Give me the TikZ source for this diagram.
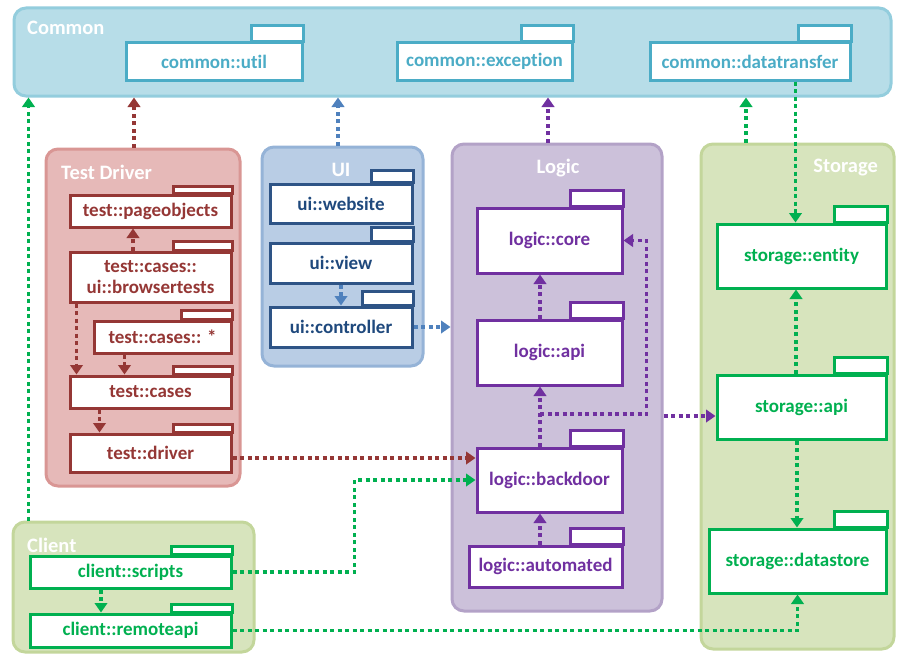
\documentclass[tikz,border=0pt]{standalone}
\usepackage{fontspec}
\setmainfont{Carlito}[Ligatures=CommonOff]
\usetikzlibrary{arrows.meta}

\definecolor{cmnFill}{HTML}{B7DDE8}
\definecolor{cmnLine}{HTML}{93CDDD}
\definecolor{cmnPkg}{HTML}{4BACC6}
\definecolor{tstFill}{HTML}{E6B9B8}
\definecolor{tstLine}{HTML}{D99694}
\definecolor{tstPkg}{HTML}{953735}
\definecolor{uiFill}{HTML}{B9CDE5}
\definecolor{uiLine}{HTML}{95B3D7}
\definecolor{uiPkg}{HTML}{2E5486}
\definecolor{uiText}{HTML}{1F497D}
\definecolor{uiArr}{HTML}{4F81BD}
\definecolor{lgcFill}{HTML}{CCC1DA}
\definecolor{lgcLine}{HTML}{B3A2C7}
\definecolor{lgcPkg}{HTML}{7030A0}
\definecolor{strFill}{HTML}{D7E4BD}
\definecolor{strLine}{HTML}{C3D69B}
\definecolor{strPkg}{HTML}{00B050}

\tikzset{
  grp/.style 2 args={draw=#2, fill=#1, line width=3pt, rounded corners=12pt, inner sep=0pt},
  grptitle/.style={text=white, font=\bfseries\fontsize{20.5}{22}\selectfont, inner sep=0pt},
  pkg/.style={draw=#1, text=#1, fill=white, line width=3pt, inner sep=0pt, align=center,
    font=\bfseries\fontsize{19}{21}\selectfont},
  conn/.style={draw=#1, line width=3.5pt, dash pattern=on 4pt off 3.5pt,
    -{Triangle[width=12.5pt,length=9.5pt]}},
}

\begin{document}
\begin{tikzpicture}[x=1pt, y=-1pt]
  \useasboundingbox (0,0) rectangle (907,661);

  % groups
  \node[grp={cmnFill}{cmnLine}, minimum width=877pt, minimum height=88pt] (common) at (452.5,52) {};
  \node[grp={tstFill}{tstLine}, minimum width=194pt, minimum height=337pt] (testdrv) at (143,317.5) {};
  \node[grp={uiFill}{uiLine}, minimum width=161pt, minimum height=219pt] (uigrp) at (342.5,256.5) {};
  \node[grp={lgcFill}{lgcLine}, minimum width=210pt, minimum height=467pt] (logicgrp) at (557,377.5) {};
  \node[grp={strFill}{strLine}, minimum width=193pt, minimum height=505pt] (storgrp) at (797.5,396.5) {};
  \node[grp={strFill}{strLine}, minimum width=241pt, minimum height=130pt] (client) at (133.5,587) {};

  \node[grptitle, anchor=west] (commontitle) at (27,28) {Common};
  \node[grptitle, anchor=west] (testtitle) at (61,172) {Test Driver};
  \node[grptitle] (uititle) at (341,170) {UI};
  \node[grptitle] (logictitle) at (558,168) {Logic};
  \node[grptitle, anchor=east] (stortitle) at (878,168) {Storage};
  \node[grptitle, anchor=west] (clienttitle) at (27,545) {Client};

  % packages
  \node[pkg=cmnPkg, minimum width=176pt, minimum height=37pt] (util) at (214,61.5) {common::util};
  \node[pkg=cmnPkg, minimum width=175pt, minimum height=37pt] (exception) at (484.5,61.5) {common::exception};
  \node[pkg=cmnPkg, minimum width=200pt, minimum height=37pt] (datatransfer) at (750,61.5) {common::datatransfer};

  \node[pkg=tstPkg, minimum width=161pt, minimum height=32pt] (pageobjects) at (150.5,211) {test::pageobjects};
  \node[pkg=tstPkg, minimum width=161pt, minimum height=50pt] (browsertests) at (150.5,277) {test::cases::\\ui::browsertests};
  \node[pkg=tstPkg, minimum width=137pt, minimum height=32pt] (casesstar) at (162.5,337) {test::cases:: *};
  \node[pkg=tstPkg, minimum width=161pt, minimum height=32pt] (cases) at (150.5,392) {test::cases};
  \node[pkg=tstPkg, minimum width=161pt, minimum height=38pt] (driver) at (150.5,453) {test::driver};

  \node[pkg=uiPkg, text=uiText, minimum width=142pt, minimum height=39pt] (website) at (341,203.5) {ui::website};
  \node[pkg=uiPkg, text=uiText, minimum width=142pt, minimum height=40pt] (view) at (341,263) {ui::view};
  \node[pkg=uiPkg, text=uiText, minimum width=142pt, minimum height=40pt] (controller) at (341,327) {ui::controller};

  \node[pkg=lgcPkg, minimum width=145pt, minimum height=65pt] (core) at (549.5,240.5) {logic::core};
  \node[pkg=lgcPkg, minimum width=145pt, minimum height=65pt] (lapi) at (549.5,352.5) {logic::api};
  \node[pkg=lgcPkg, minimum width=145pt, minimum height=64pt] (backdoor) at (549.5,480) {logic::backdoor};
  \node[pkg=lgcPkg, minimum width=153pt, minimum height=41pt] (automated) at (545.5,566.5) {logic::automated};

  \node[pkg=strPkg, minimum width=169pt, minimum height=64pt] (entity) at (801.5,256) {storage::entity};
  \node[pkg=strPkg, minimum width=169pt, minimum height=64pt] (sapi) at (801.5,407) {storage::api};
  \node[pkg=strPkg, minimum width=177pt, minimum height=64pt] (datastore) at (797.5,561) {storage::datastore};

  \node[pkg=strPkg, minimum width=201pt, minimum height=32pt] (scripts) at (130.5,572) {client::scripts};
  \node[pkg=strPkg, minimum width=201pt, minimum height=33pt] (remoteapi) at (130.5,630.5) {client::remoteapi};

  % tabs
  \foreach \n/\c/\w/\h in {util/cmnPkg/52/16, exception/cmnPkg/52/16, datatransfer/cmnPkg/53/16,
      pageobjects/tstPkg/59/7, browsertests/tstPkg/59/9, casesstar/tstPkg/51/9,
      cases/tstPkg/59/8, driver/tstPkg/59/8,
      website/uiPkg/42/12, view/uiPkg/42/14, controller/uiPkg/51/14,
      core/lgcPkg/53/16, lapi/lgcPkg/53/16, backdoor/lgcPkg/53/16, automated/lgcPkg/53/16,
      entity/strPkg/53/16, sapi/strPkg/53/16, datastore/strPkg/53/16,
      scripts/strPkg/61/8, remoteapi/strPkg/61/8}{
    \draw[line width=3pt, draw=\c, fill=white] (\n.north east) rectangle ++(-\w,-\h);
  }

  % dependencies on common
  \draw[conn=strPkg] (client.north -| scripts.west) -- (common.south -| scripts.west);
  \draw[conn=tstPkg] ([xshift=-9pt]testdrv.north) -- ([xshift=-9pt]testdrv.north |- common.south);
  \draw[conn=uiArr] ([xshift=-4.5pt]uigrp.north) -- ([xshift=-4.5pt]uigrp.north |- common.south);
  \draw[conn=lgcPkg] ([xshift=-9pt]logicgrp.north) -- ([xshift=-9pt]logicgrp.north |- common.south);
  \draw[conn=strPkg] ([xshift=-51.5pt]storgrp.north) -- ([xshift=-51.5pt]storgrp.north |- common.south);
  \draw[conn=strPkg] ([xshift=-6pt]entity.north |- datatransfer.south) -- ([xshift=-6pt]entity.north);

  % test driver
  \draw[conn=tstPkg] ([xshift=-17.5pt]browsertests.north) -- ([xshift=-17.5pt]browsertests.north |- pageobjects.south);
  \draw[conn=tstPkg] ([xshift=8pt]browsertests.south west) -- ([xshift=8pt]browsertests.south west |- cases.north);
  \draw[conn=tstPkg] ([xshift=32pt]casesstar.south west) -- ([xshift=32pt]casesstar.south west |- cases.north);
  \draw[conn=tstPkg] ([xshift=31pt]cases.south west) -- ([xshift=31pt]cases.south west |- driver.north);
  \draw[conn=tstPkg] ([yshift=-5pt]driver.east) -- ([yshift=-5pt]driver.east -| backdoor.west);

  % ui
  \draw[conn=uiArr] (view.south) -- (controller.north);
  \draw[conn=uiArr] (controller.east) -- (controller.east -| logicgrp.west);

  % logic
  \coordinate (lgjoin) at (540,414);
  \draw[conn=lgcPkg] ([xshift=-9.5pt]lapi.north) -- ([xshift=-9.5pt]lapi.north |- core.south);
  \draw[conn=lgcPkg] ([xshift=-9.5pt]backdoor.north) -- ([xshift=-9.5pt]backdoor.north |- lapi.south);
  \draw[conn=lgcPkg] ([xshift=-5.5pt]automated.north) -- ([xshift=-5.5pt]automated.north |- backdoor.south);
  \draw[conn=lgcPkg] (lgjoin) -| ([xshift=23pt]core.east) -- (core.east);
  \draw[conn=lgcPkg] ([yshift=-9pt]sapi.west -| logicgrp.east) -- ([yshift=-9pt]sapi.west);

  % storage
  \draw[conn=strPkg] ([xshift=-5.5pt]sapi.north) -- ([xshift=-5.5pt]sapi.north |- entity.south);
  \draw[conn=strPkg] ([xshift=-4.5pt]sapi.south) -- ([xshift=-4.5pt]sapi.south |- datastore.north);

  % client
  \draw[conn=strPkg] ([xshift=-29.5pt]scripts.south) -- ([xshift=-29.5pt]scripts.south |- remoteapi.north);
  \draw[conn=strPkg] (scripts.east) -- ++(122,0) |- (backdoor.west);
  \draw[conn=strPkg] (remoteapi.east) -| (datastore.south);
\end{tikzpicture}
\end{document}
